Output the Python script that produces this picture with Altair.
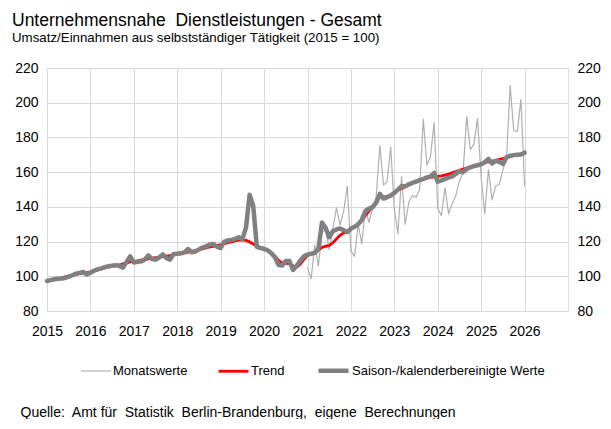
import altair as alt
import pandas as pd

# ---------------- data ----------------
start_year = 2015
year_ticks = list(range(2015, 2027))
y_ticks = [80, 100, 120, 140, 160, 180, 200, 220]

series_names = ["Monatswerte", "Trend", "Saison-/kalenderbereinigte Werte"]

# Saison-/kalenderbereinigte Werte, monthly Jan 2015 .. Jan 2026
saison = [
    97.3, 97.8, 98.3, 98.6, 98.7, 99.0, 99.8, 100.6, 101.5, 102.0, 102.5, 101.0,      # 2015
    102.0, 103.2, 104.0, 104.6, 105.3, 105.8, 106.1, 106.3, 106.0, 105.0, 108.3, 111.5,  # 2016
    108.0, 108.3, 108.6, 109.5, 112.0, 110.0, 109.6, 110.8, 112.6, 110.5, 109.6, 112.8,  # 2017
    113.0, 113.3, 113.8, 115.7, 113.8, 114.2, 115.5, 116.5, 117.2, 118.3, 118.6, 117.0,  # 2018
    116.3, 120.0, 120.6, 121.0, 121.5, 122.5, 121.3, 128.0, 147.0, 140.5, 117.0, 116.3,  # 2019
    115.8, 115.0, 113.3, 111.0, 106.5, 106.2, 108.8, 108.8, 103.6, 106.0, 109.0, 111.5,  # 2020
    112.5, 113.0, 113.5, 115.5, 131.0, 128.0, 122.5, 126.0, 127.0, 127.5, 126.5, 125.5,  # 2021
    127.5, 128.5, 130.0, 132.5, 137.5, 139.0, 139.8, 142.5, 147.5, 144.8, 145.5, 146.5,  # 2022
    148.0, 150.0, 152.0, 151.8, 153.0, 153.8, 154.5, 155.5, 156.0, 157.0, 157.5, 159.5,  # 2023
    154.5, 155.2, 156.0, 157.0, 157.5, 159.0, 160.5, 160.0, 161.8, 162.8, 163.5, 164.0,  # 2024
    164.5, 165.7, 167.6, 165.0, 166.5, 166.0, 164.8, 168.5, 169.5, 169.8, 170.0, 170.2,  # 2025
    171.2,                                                                               # 2026
]

# Trend, monthly Jan 2015 .. Jan 2026
trend = [
    97.5, 97.9, 98.3, 98.7, 99.1, 99.6, 100.1, 100.6, 101.1, 101.5, 101.8, 102.1,
    102.5, 103.1, 103.7, 104.3, 104.9, 105.4, 105.8, 106.1, 106.5, 107.1, 107.8, 108.3,
    108.6, 108.9, 109.3, 109.7, 110.1, 110.4, 110.7, 111.0, 111.3, 111.6, 111.9, 112.3,
    112.7, 113.1, 113.5, 113.9, 114.3, 114.8, 115.3, 115.8, 116.4, 116.9, 117.3, 117.7,
    118.2, 118.8, 119.4, 119.9, 120.4, 120.8, 121.0, 120.7, 119.8, 118.6, 117.4, 116.5,
    115.6, 114.7, 113.4, 111.5, 109.2, 107.6, 107.5, 107.3, 106.0, 105.2, 107.0, 109.8,
    112.0, 113.0, 114.0, 115.3, 116.6, 117.3, 117.8, 119.3, 121.5, 123.6, 125.0, 125.9,
    127.0, 128.4, 130.0, 132.0, 135.0, 137.5, 140.0, 143.0, 146.0, 145.6, 146.0, 147.0,
    148.2, 149.5, 150.7, 151.7, 152.7, 153.6, 154.4, 155.2, 155.9, 156.5, 157.0, 157.3,
    157.6, 157.9, 158.3, 158.9, 159.6, 160.3, 161.0, 161.7, 162.4, 163.1, 163.7, 164.3,
    164.9, 165.5, 166.0, 166.4, 166.8, 167.3, 167.8, 168.4, 169.0, 169.6, 170.1, 170.5,
    171.0,
]

# Monatswerte (unadjusted), monthly Jan 2021 .. Jan 2026
monat_start_index = 72
monatswerte = [
    105.0, 98.5, 118.0, 106.0, 125.0, 127.0, 115.5, 127.0, 139.5, 129.5, 137.5, 152.0,   # 2021
    114.5, 111.5, 130.0, 118.5, 139.0, 131.0, 139.0, 146.0, 175.5, 152.5, 154.5, 174.5,  # 2022
    138.5, 124.5, 157.5, 130.0, 142.5, 146.5, 145.5, 150.0, 190.5, 164.0, 169.0, 188.5,  # 2023
    139.0, 135.0, 151.0, 136.0, 142.0, 146.5, 155.0, 160.0, 192.0, 173.0, 176.0, 191.0,  # 2024
    157.0, 136.0, 161.5, 144.0, 152.0, 153.0, 161.5, 167.0, 210.0, 184.0, 183.5, 202.0,  # 2025
    152.0,                                                                               # 2026
]

# ---------------- table ----------------
rows = []
for i, v in enumerate(monatswerte):
    k = monat_start_index + i
    rows.append({"t": start_year + k / 12, "v": v, "serie": series_names[0]})
for k, v in enumerate(trend):
    rows.append({"t": start_year + k / 12, "v": v, "serie": series_names[1]})
for k, v in enumerate(saison):
    rows.append({"t": start_year + k / 12, "v": v, "serie": series_names[2]})
df = pd.DataFrame(rows)

FONT = "Liberation Sans, Arial, Helvetica, sans-serif"
TXT = "#000000"

legend = alt.Legend(
    orient="none", legendX=33, legendY=285, direction="horizontal", title=None,
    symbolType="stroke", symbolSize=900, labelFontSize=13, labelFont=FONT,
    labelColor=TXT, labelOffset=1, columnPadding=24, labelLimit=400, padding=0,
)
color_enc = alt.Color(
    "serie:N",
    scale=alt.Scale(domain=series_names, range=["#b0b0b0", "#ff0000", "#808080"]),
    legend=legend,
)
width_enc = alt.StrokeWidth(
    "serie:N",
    scale=alt.Scale(domain=series_names, range=[1.2, 4.5, 5]),
    legend=legend,
)

x_enc = alt.X(
    "t:Q",
    scale=alt.Scale(domain=[2015, 2027], nice=False, zero=False),
    axis=alt.Axis(
        values=year_ticks, format="d", grid=True, gridColor="#d9d9d9", gridWidth=1,
        ticks=False, domain=False, labelPadding=13, labelFontSize=14, labelFont=FONT,
        labelColor=TXT, labelOverlap=False, labelFlush=False,
        title="Quelle:\u00a0 Amt für\u00a0 Statistik\u00a0 Berlin-Brandenburg,\u00a0 eigene\u00a0 Berechnungen",
        titleX=-27, titleY=105, titleAnchor="start", titleAlign="left",
        titleBaseline="alphabetic", titleFontWeight="normal", titleFontSize=14,
        titleFont=FONT, titleColor=TXT,
    ),
)

def y_enc(orient, grid):
    return alt.Y(
        "v:Q",
        scale=alt.Scale(domain=[80, 220], nice=False, zero=False),
        axis=alt.Axis(
            orient=orient, values=y_ticks, ticks=False, domain=False, grid=grid,
            gridColor="#d9d9d9", gridWidth=1, labelPadding=9, labelFontSize=14,
            labelFont=FONT, labelColor=TXT, title=None,
        ),
    )

base = alt.Chart(df)

layer_m = base.transform_filter(alt.datum.serie == series_names[0]).mark_line(
    strokeJoin="round"
).encode(x=x_enc, y=y_enc("left", True), color=color_enc, strokeWidth=width_enc)

layer_t = base.transform_filter(alt.datum.serie == series_names[1]).mark_line(
    strokeJoin="round", strokeCap="round"
).encode(x=x_enc, y=alt.Y("v:Q", scale=alt.Scale(domain=[80, 220], nice=False, zero=False), axis=None),
         color=color_enc, strokeWidth=width_enc)

layer_s = base.transform_filter(alt.datum.serie == series_names[2]).mark_line(
    strokeJoin="round", strokeCap="round"
).encode(x=x_enc, y=y_enc("right", False), color=color_enc, strokeWidth=width_enc)

chart = (
    alt.layer(layer_m, layer_t, layer_s)
    .resolve_scale(y="shared")
    .resolve_axis(y="independent")
    .properties(
        width=521, height=243,
        autosize=alt.AutoSizeParams(type="none"),
        padding={"left": 39, "top": 60, "right": 35, "bottom": 108},
        title=alt.TitleParams(
            text="Unternehmensnahe\u00a0 Dienstleistungen - Gesamt",
            subtitle="Umsatz/Einnahmen aus selbstständiger Tätigkeit (2015 = 100)",
            anchor="start", dx=-35, offset=17, fontSize=17.5, subtitleFontSize=13.3,
            fontWeight="normal", font=FONT, subtitleFont=FONT, color=TXT,
            subtitleColor=TXT, subtitlePadding=1, frame="group",
        ),
    )
    .configure_view(stroke="#a6a6a6", strokeWidth=1)
    .configure(background="white")
)

chart.save("out.html", embed_options={"renderer": "svg", "actions": False})
